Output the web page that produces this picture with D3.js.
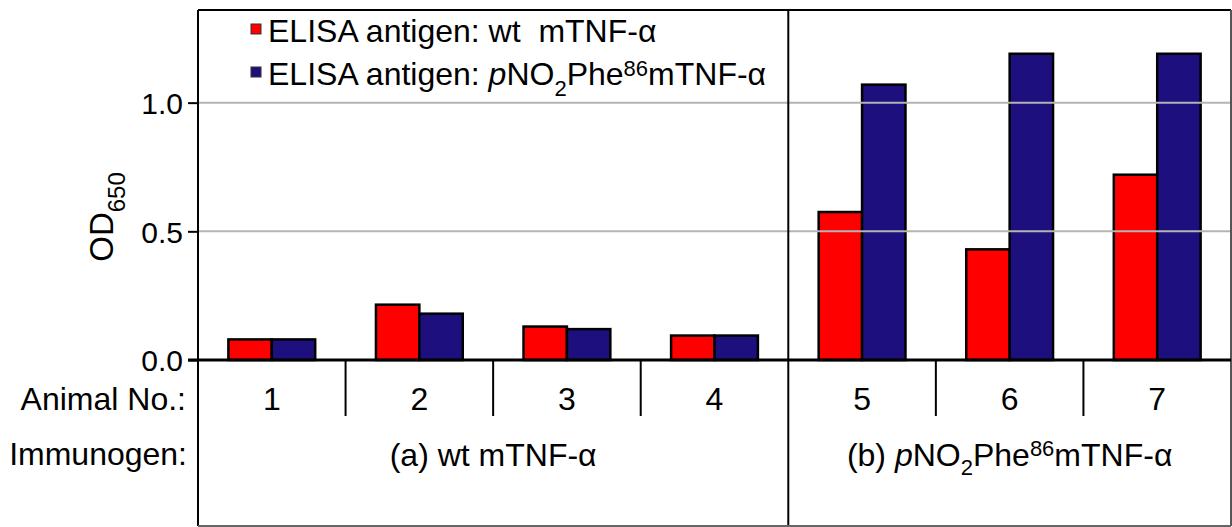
<!DOCTYPE html>
<html>
<head>
<meta charset="utf-8">
<script src="https://cdn.jsdelivr.net/npm/d3@7"></script>
<style>
  body { margin: 0; background: #fff; }
  svg { display: block; font-family: "Liberation Sans", Arial, sans-serif; }
  text { white-space: pre; }
</style>
</head>
<body>
<div id="chart"></div>
<script>
// values
var animals = ['1', '2', '3', '4', '5', '6', '7'];
var wtValues = [0.08, 0.215, 0.13, 0.095, 0.575, 0.43, 0.72];
var nitroValues = [0.08, 0.18, 0.12, 0.095, 1.07, 1.19, 1.19];
var seriesKeys = ['wt', 'nitro'];
var seriesColors = ['#ff0000', '#1e0f7e'];
var yTicks = [0, 0.5, 1.0];
var groupFirst = ['1', '5'];
var groupLast = ['4', '7'];

// rich-text pieces: [text, kind]  kind: n normal, i italic, sub, sup
var legendTexts = [
    [['ELISA antigen: wt  mTNF-\u03b1', 'n']],
    [['ELISA antigen: ', 'n'], ['p', 'i'], ['NO', 'n'], ['2', 'sub'], ['Phe', 'n'], ['86', 'sup'], ['mTNF-\u03b1', 'n']]
];
var groupTexts = [
    [['(a) wt mTNF-\u03b1', 'n']],
    [['(b) ', 'n'], ['p', 'i'], ['NO', 'n'], ['2', 'sub'], ['Phe', 'n'], ['86', 'sup'], ['mTNF-\u03b1', 'n']]
];

(function() {
    var W = 1232, H = 527;
    var plotLeft = 198, plotRight = 1231, plotTop = 10, plotBottom = 526, zeroY = 360;

    var svg = d3.select('#chart').append('svg')
        .attr('width', W)
        .attr('height', H);

    // scales
    var x0 = d3.scaleBand().domain(animals).range([plotLeft, plotRight]).padding(0);
    var x1 = d3.scaleBand().domain(seriesKeys).range([0, x0.bandwidth()])
        .paddingInner(0).paddingOuter(0.7);
    var y = d3.scaleLinear().domain([0, 1.36]).range([zeroY, plotTop]);
    var color = d3.scaleOrdinal().domain(seriesKeys).range(seriesColors);

    var rows = animals.map(function(a, i) {
        return {animal: a, values: [
            {key: 'wt', value: wtValues[i]},
            {key: 'nitro', value: nitroValues[i]}
        ]};
    });

    // helper for text with italics / sub / superscripts
    function richText(sel, parts, size, subShift, supShift) {
        var shift = 0;
        parts.forEach(function(p) {
            var t = sel.append('tspan').text(p[0]);
            var target = 0;
            if (p[1] === 'sub') target = subShift;
            if (p[1] === 'sup') target = -supShift;
            if (target !== shift) t.attr('dy', target - shift);
            shift = target;
            if (p[1] === 'i') t.style('font-style', 'italic');
            if (p[1] === 'sub' || p[1] === 'sup') t.style('font-size', Math.round(size * 0.7) + 'px');
        });
    }

    // bars
    var groups = svg.append('g').selectAll('g')
        .data(rows)
        .enter().append('g')
        .attr('transform', function(d) { return 'translate(' + x0(d.animal) + ',0)'; });

    groups.selectAll('rect')
        .data(function(d) { return d.values; })
        .enter().append('rect')
        .attr('x', function(d) { return x1(d.key); })
        .attr('y', function(d) { return y(d.value); })
        .attr('width', x1.bandwidth())
        .attr('height', function(d) { return y(0) - y(d.value); })
        .attr('fill', function(d) { return color(d.key); })
        .attr('stroke', '#000')
        .attr('stroke-width', 2.5);

    // gridlines sit over the bars in the original
    svg.append('g').selectAll('line')
        .data(yTicks.filter(function(d) { return d > 0; }))
        .enter().append('line')
        .attr('x1', plotLeft).attr('x2', plotRight)
        .attr('y1', function(d) { return y(d); })
        .attr('y2', function(d) { return y(d); })
        .attr('stroke', '#b4b4b4')
        .attr('stroke-width', 2);

    // y axis
    var yAxis = d3.axisLeft(y)
        .tickValues(yTicks)
        .tickFormat(d3.format('.1f'))
        .tickSize(10)
        .tickPadding(5);
    var yAxisG = svg.append('g')
        .attr('transform', 'translate(' + plotLeft + ',0)')
        .call(yAxis);
    yAxisG.select('.domain').remove();
    yAxisG.selectAll('line').attr('stroke', '#000').attr('stroke-width', 2);
    yAxisG.selectAll('text')
        .attr('font-family', '"Liberation Sans", Arial, sans-serif')
        .attr('font-size', 30)
        .attr('fill', '#000')
        .attr('dy', '0.36em');

    // y label
    var yLab = svg.append('text')
        .attr('transform', 'translate(113,217) rotate(-90)')
        .attr('text-anchor', 'middle')
        .attr('font-size', 33);
    richText(yLab, [['OD', 'n'], ['650', 'sub']], 34, 12, 0);

    // frame
    var frame = svg.append('g').attr('stroke', '#000').attr('stroke-width', 2).attr('fill', 'none');
    frame.append('line').attr('x1', plotLeft).attr('x2', plotRight).attr('y1', plotTop).attr('y2', plotTop);
    frame.append('line').attr('x1', plotLeft).attr('x2', plotLeft).attr('y1', plotTop).attr('y2', plotBottom);
    frame.append('line').attr('x1', x0(groupFirst[1])).attr('x2', x0(groupFirst[1]))
        .attr('y1', plotTop).attr('y2', plotBottom);
    frame.append('line').attr('x1', plotRight).attr('x2', plotRight).attr('y1', plotTop).attr('y2', plotBottom)
        .attr('stroke', '#555');
    frame.append('line').attr('x1', plotLeft).attr('x2', plotRight).attr('y1', plotBottom).attr('y2', plotBottom)
        .attr('stroke', '#666');

    // zero line
    svg.append('line')
        .attr('x1', plotLeft - 10).attr('x2', plotRight)
        .attr('y1', y(0)).attr('y2', y(0))
        .attr('stroke', '#000').attr('stroke-width', 3);

    // separators between animals inside each group
    svg.append('g').selectAll('line')
        .data(animals.filter(function(a) { return groupFirst.indexOf(a) < 0; }))
        .enter().append('line')
        .attr('x1', function(d) { return x0(d); })
        .attr('x2', function(d) { return x0(d); })
        .attr('y1', zeroY).attr('y2', zeroY + 56)
        .attr('stroke', '#000').attr('stroke-width', 2);

    // animal numbers
    svg.append('g').selectAll('text')
        .data(animals)
        .enter().append('text')
        .attr('x', function(d) { return x0(d) + x0.bandwidth() / 2; })
        .attr('y', 410)
        .attr('text-anchor', 'middle')
        .attr('font-size', 32)
        .text(function(d) { return d; });

    // row headers
    svg.append('text').attr('x', 186).attr('y', 410).attr('text-anchor', 'end')
        .attr('font-size', 32).text('Animal No.:');
    svg.append('text').attr('x', 187).attr('y', 465).attr('text-anchor', 'end')
        .attr('font-size', 32).text('Immunogen:');

    // immunogen groups
    groupTexts.forEach(function(parts, i) {
        var gx = (x0(groupFirst[i]) + x0(groupLast[i]) + x0.bandwidth()) / 2;
        var t = svg.append('text')
            .attr('x', gx).attr('y', 466)
            .attr('text-anchor', 'middle')
            .attr('font-size', 32);
        richText(t, parts, 32, 9, 10);
    });

    // legend
    var legend = svg.append('g');
    legendTexts.forEach(function(parts, i) {
        var ly = 42 + i * 43;
        legend.append('rect')
            .attr('x', 251).attr('y', ly - 18)
            .attr('width', 10).attr('height', 10)
            .attr('fill', seriesColors[i])
            .attr('stroke', '#333').attr('stroke-width', 1);
        var t = legend.append('text')
            .attr('x', 268).attr('y', ly)
            .attr('font-size', 32);
        richText(t, parts, 32, 11, 9);
    });
}());
</script>
</body>
</html>
